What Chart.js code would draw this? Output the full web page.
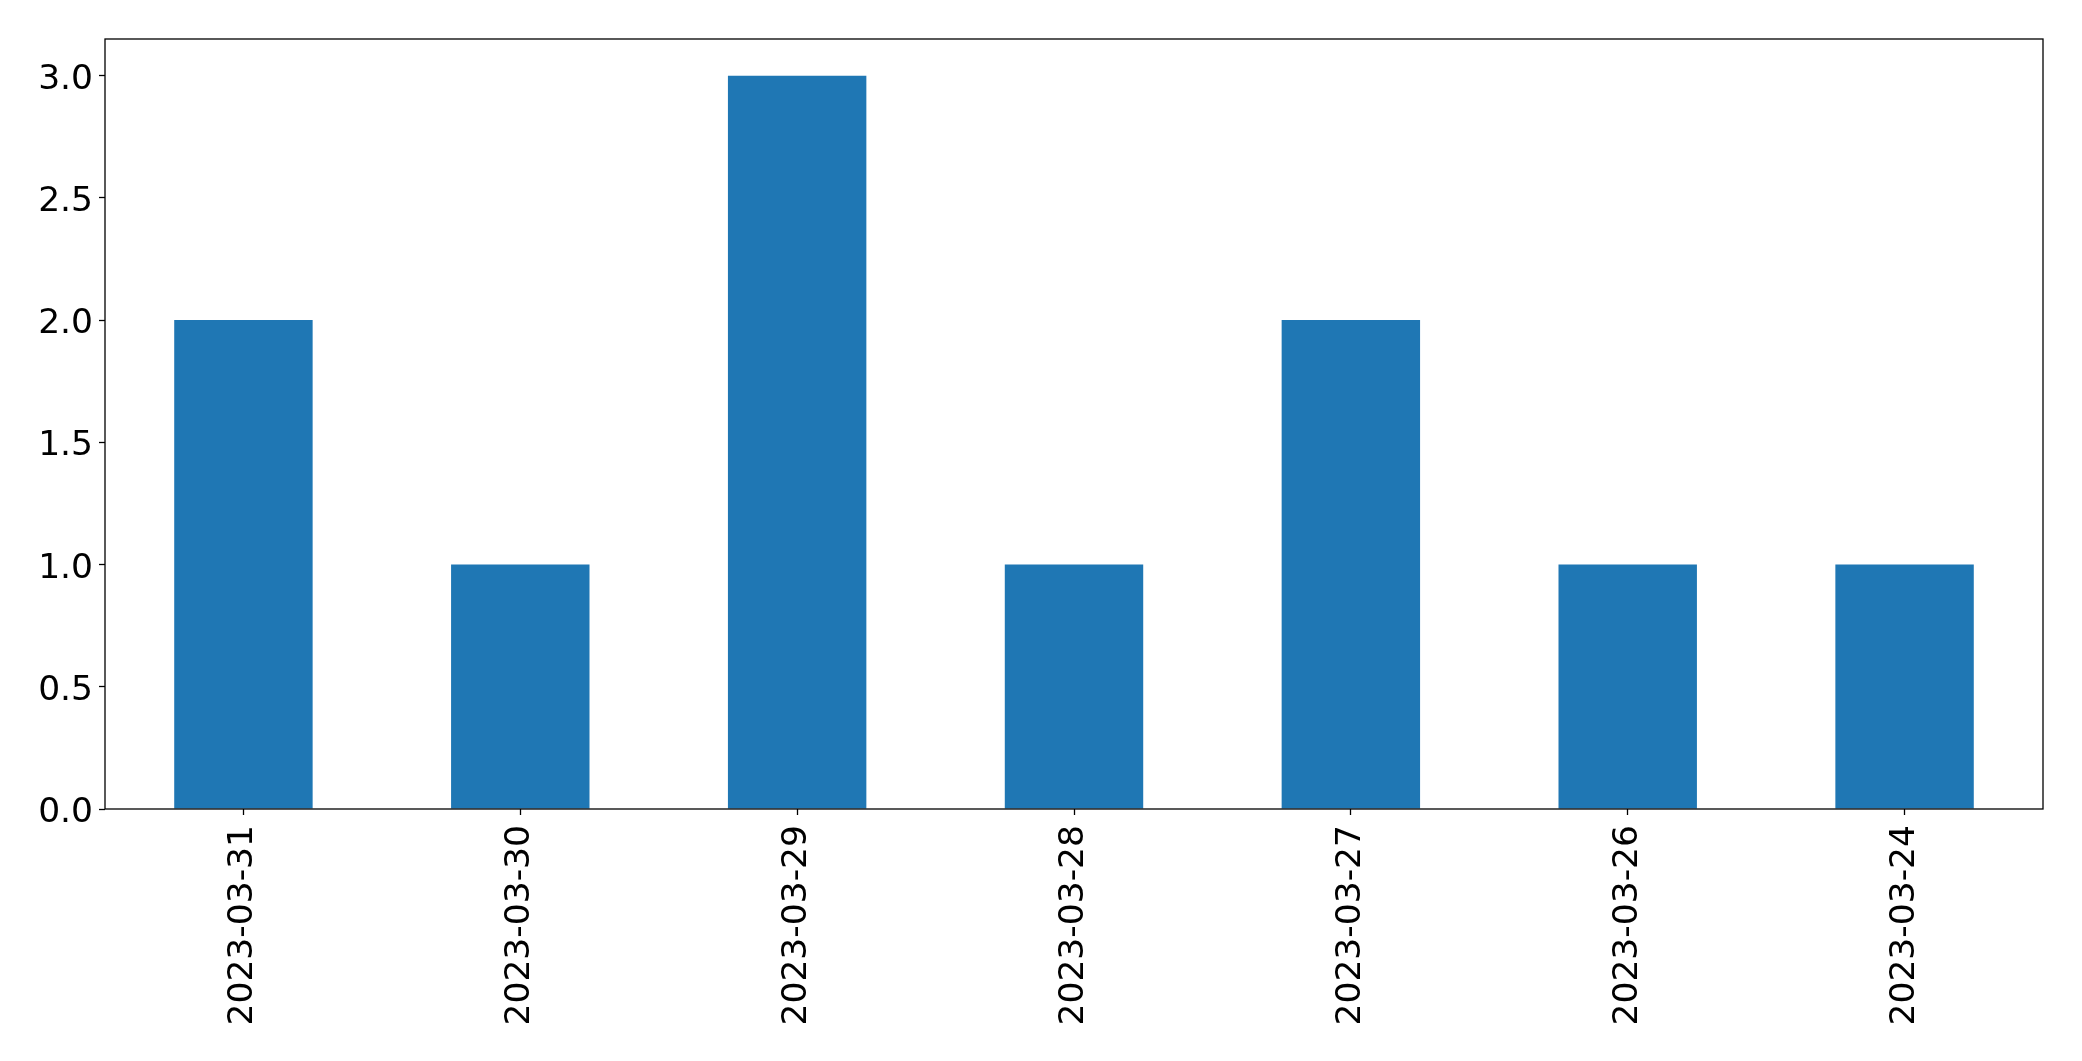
<!DOCTYPE html>
<html>
<head>
<meta charset="utf-8">
<script src="https://cdn.jsdelivr.net/npm/chart.js@4/dist/chart.umd.min.js"></script>
<style>
	html, body { margin: 0; padding: 0; background: #fff; }
	#wrap { width: 2082px; height: 1061px; }
</style>
</head>
<body>
<div id="wrap"><canvas id="barChart"></canvas></div>
<script>
// Chart data
let dates = ['2023-03-31', '2023-03-30', '2023-03-29', '2023-03-28', '2023-03-27', '2023-03-26', '2023-03-24'];
let counts = [2, 1, 3, 1, 2, 1, 1];
let yTicks = [0, 0.5, 1, 1.5, 2, 2.5, 3];

// Global ChartJS configuration
Chart.defaults.font.family = '"DejaVu Sans", sans-serif';
Chart.defaults.font.size = 34.5;
Chart.defaults.color = '#000';

// Box round the plot area, like matplotlib's spines
const frame = {
	id: 'frame',
	afterDraw(chart) {
		let { ctx, chartArea: a } = chart;
		ctx.save();
		ctx.strokeStyle = '#000';
		ctx.lineWidth = 1.3;
		ctx.strokeRect(a.left, a.top, a.right - a.left, a.bottom - a.top);
		ctx.restore();
	}
};

let context = document.querySelector('#barChart');

let chart = new Chart(context, {
	type: 'bar',
	data: {
		labels: dates,
		datasets: [{
			data: counts,
			backgroundColor: '#1f77b4',
			categoryPercentage: 1,
			barPercentage: 0.5,
		}]
	},
	options: {
		responsive: true,
		maintainAspectRatio: false,
		animation: false,
		layout: { padding: { top: 39, right: 39, left: 0, bottom: 0 } },
		plugins: { legend: false, tooltip: false },
		scales: {
			x: {
				grid: { offset: false, drawOnChartArea: false, tickLength: 6, tickColor: '#000', tickWidth: 1.3 },
				border: { display: false },
				ticks: { minRotation: 90, maxRotation: 90, padding: 10 },
				afterFit: (s) => { s.height = 252; }
			},
			y: {
				min: 0,
				max: 3.15,
				grid: { drawOnChartArea: false, tickLength: 6, tickColor: '#000', tickWidth: 1.3 },
				border: { display: false },
				afterBuildTicks: (s) => { s.ticks = yTicks.map(v => ({ value: v })); },
				ticks: { padding: 6, labelOffset: 4, callback: (v) => v.toFixed(1) },
				afterFit: (s) => { s.width = 105; }
			}
		}
	},
	plugins: [frame]
});
</script>
</body>
</html>
